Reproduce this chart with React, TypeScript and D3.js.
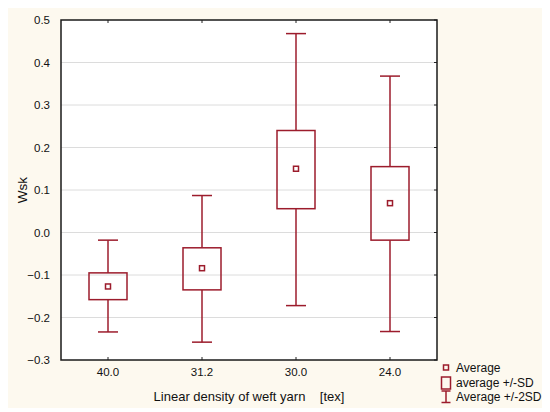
import React, { useRef, useEffect } from "react";
import * as d3 from "d3";

// Linear density of weft yarn [tex]
const categories = ["40.0", "31.2", "30.0", "24.0"];
// average, +/-SD box and +/-2SD whiskers
const average = [-0.127, -0.084, 0.15, 0.069];
const sdLow = [-0.158, -0.135, 0.056, -0.018];
const sdHigh = [-0.095, -0.036, 0.24, 0.155];
const sd2Low = [-0.234, -0.258, -0.172, -0.233];
const sd2High = [-0.018, 0.087, 0.468, 0.368];
const yTicks = [-0.3, -0.2, -0.1, 0.0, 0.1, 0.2, 0.3, 0.4, 0.5];
const legendLabels = ["Average", "average +/-SD", "Average +/-2SD"];

const W = 550;
const H = 412;
const RED = "#9c1c2c";
const FONT = "'Liberation Sans', Arial, sans-serif";

const App: React.FC = () => {
    const ref = useRef<SVGSVGElement>(null);

    useEffect(() => {
        if (!ref.current) return;
        const svg = d3.select(ref.current);
        svg.selectAll("*").remove();

        const margin = { left: 61, right: 437, top: 20, bottom: 360 };

        // page background
        svg.append("rect").attr("x", 8).attr("y", 8).attr("width", 534).attr("height", 400).attr("fill", "#fdf9ef");

        const x = d3.scaleBand<string>().domain(categories).range([margin.left, margin.right]);
        const y = d3.scaleLinear().domain([-0.3, 0.5]).range([margin.bottom, margin.top]);

        svg.append("rect")
            .attr("x", margin.left).attr("y", margin.top)
            .attr("width", margin.right - margin.left).attr("height", margin.bottom - margin.top)
            .attr("fill", "white");

        // grid
        svg.append("g").selectAll("line")
            .data(yTicks.slice(1, -1))
            .enter().append("line")
            .attr("x1", margin.left).attr("x2", margin.right)
            .attr("y1", d => y(d)).attr("y2", d => y(d))
            .attr("stroke", "#dcdcdc").attr("stroke-width", 1);

        // inner ticks on right, top and bottom
        const ticks = svg.append("g").attr("stroke", "#222").attr("stroke-width", 1);
        yTicks.forEach(t => {
            ticks.append("line").attr("x1", margin.right - 3).attr("x2", margin.right).attr("y1", y(t)).attr("y2", y(t));
        });
        categories.forEach(c => {
            const cx = x(c)! + x.bandwidth() / 2;
            ticks.append("line").attr("x1", cx).attr("x2", cx).attr("y1", margin.top).attr("y2", margin.top + 3);
            ticks.append("line").attr("x1", cx).attr("x2", cx).attr("y1", margin.bottom - 3).attr("y2", margin.bottom);
        });

        // frame
        svg.append("rect")
            .attr("x", margin.left).attr("y", margin.top)
            .attr("width", margin.right - margin.left).attr("height", margin.bottom - margin.top)
            .attr("fill", "none").attr("stroke", "#1a1a1a").attr("stroke-width", 1.5);

        // y tick labels
        svg.append("g").selectAll("text")
            .data(yTicks)
            .enter().append("text")
            .attr("x", margin.left - 11).attr("y", d => y(d) + 4)
            .attr("text-anchor", "end")
            .style("font-family", FONT).style("font-size", "11.5px").attr("fill", "#111")
            .text(d => d3.format(".1f")(d));

        // x tick labels
        svg.append("g").selectAll("text")
            .data(categories)
            .enter().append("text")
            .attr("x", d => x(d)! + x.bandwidth() / 2).attr("y", margin.bottom + 16)
            .attr("text-anchor", "middle")
            .style("font-family", FONT).style("font-size", "11.5px").attr("fill", "#111")
            .text(d => d);

        // axis titles
        svg.append("text")
            .attr("x", 249).attr("y", 401)
            .attr("text-anchor", "middle")
            .attr("xml:space", "preserve")
            .style("white-space", "pre")
            .style("font-family", FONT).style("font-size", "13px").attr("fill", "#111")
            .text("Linear density of weft yarn    [tex]");
        svg.append("text")
            .attr("transform", `translate(27,${(margin.top + margin.bottom) / 2}) rotate(-90)`)
            .attr("text-anchor", "middle")
            .style("font-family", FONT).style("font-size", "13.5px").attr("fill", "#111")
            .text("Wsk");

        // boxes
        const boxW = 38;
        const capW = 20;
        const g = svg.append("g").attr("stroke", RED).attr("stroke-width", 1.5).attr("fill", "none");
        categories.forEach((c, i) => {
            const cx = x(c)! + x.bandwidth() / 2;
            g.append("line").attr("x1", cx).attr("x2", cx).attr("y1", y(sd2High[i])).attr("y2", y(sdHigh[i]));
            g.append("line").attr("x1", cx).attr("x2", cx).attr("y1", y(sdLow[i])).attr("y2", y(sd2Low[i]));
            g.append("line").attr("x1", cx - capW / 2).attr("x2", cx + capW / 2).attr("y1", y(sd2High[i])).attr("y2", y(sd2High[i]));
            g.append("line").attr("x1", cx - capW / 2).attr("x2", cx + capW / 2).attr("y1", y(sd2Low[i])).attr("y2", y(sd2Low[i]));
            g.append("rect")
                .attr("x", cx - boxW / 2).attr("y", y(sdHigh[i]))
                .attr("width", boxW).attr("height", y(sdLow[i]) - y(sdHigh[i]));
            g.append("rect")
                .attr("x", cx - 2.5).attr("y", y(average[i]) - 2.5)
                .attr("width", 5).attr("height", 5);
        });

        // legend
        const lx = 446;
        const lg = svg.append("g");
        const li = lg.append("g").attr("stroke", RED).attr("stroke-width", 1.5).attr("fill", "none");
        li.append("rect").attr("x", lx - 2.5).attr("y", 365).attr("width", 5).attr("height", 5);
        li.append("rect").attr("x", lx - 4.5).attr("y", 377).attr("width", 9).attr("height", 12);
        li.append("line").attr("x1", lx).attr("x2", lx).attr("y1", 391).attr("y2", 402.5);
        li.append("line").attr("x1", lx - 4.5).attr("x2", lx + 4.5).attr("y1", 391).attr("y2", 391);
        li.append("line").attr("x1", lx - 4.5).attr("x2", lx + 4.5).attr("y1", 402.5).attr("y2", 402.5);
        lg.selectAll("text")
            .data(legendLabels)
            .enter().append("text")
            .attr("x", 456).attr("y", (_, i) => 372 + i * 14.5)
            .style("font-family", FONT).style("font-size", "12px").attr("fill", "#111")
            .text(d => d);
    }, []);

    return (
        <svg ref={ref} width={W} height={H} style={{ position: "absolute", left: 0, top: 0 }} />
    );
};

export default App;
